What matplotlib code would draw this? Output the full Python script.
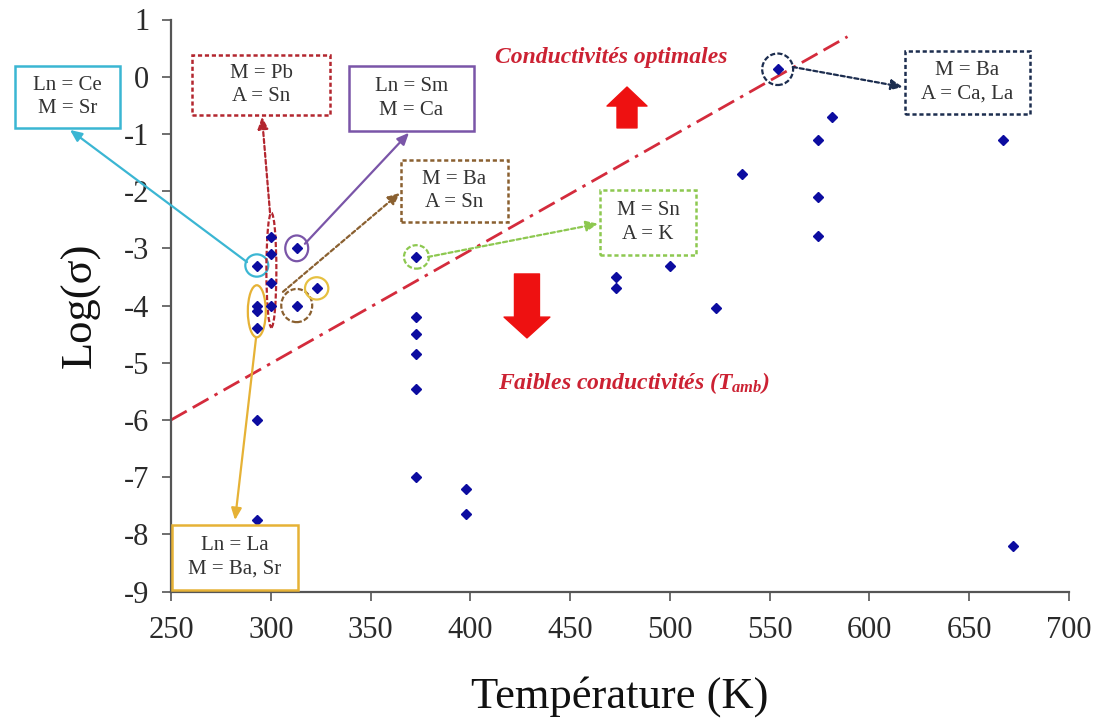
import matplotlib
matplotlib.use("Agg")
import matplotlib.pyplot as plt
from matplotlib.patches import Ellipse, Rectangle

plt.rcParams["font.family"] = ["Liberation Serif", "DejaVu Serif"]
plt.rcParams["axes.unicode_minus"] = False
plt.rcParams["lines.scale_dashes"] = False
plt.rcParams["mathtext.fontset"] = "custom"
plt.rcParams["mathtext.it"] = "Liberation Serif:italic:bold"
plt.rcParams["mathtext.rm"] = "Liberation Serif:bold"

# Measured conductivities: temperature (K) and log10(sigma)
temperature = [293, 313, 300, 300, 300, 300, 293, 293, 293, 313, 323, 293, 293,
               373, 373, 373, 373, 373, 373, 398, 398, 473, 473, 500, 523, 536,
               554, 574, 574, 574, 581, 667, 672]
log_sigma = [-3.3, -3.0, -2.8, -3.1, -3.6, -4.0, -4.0, -4.1, -4.4, -4.0, -3.7, -6.0, -7.75,
             -3.15, -4.2, -4.5, -4.85, -5.45, -7.0, -7.2, -7.65, -3.5, -3.7, -3.3, -4.05, -1.7,
             0.13, -1.1, -2.1, -2.78, -0.7, -1.1, -8.2]

# Boundary between low and optimal conductivities
limit_T = [250, 589]
limit_log = [-6.0, 0.7]

x_ticks = [250, 300, 350, 400, 450, 500, 550, 600, 650, 700]
y_ticks = [1, 0, -1, -2, -3, -4, -5, -6, -7, -8, -9]

# Highlighted families: label, colour, solid/dashed, group centre (T, logσ),
# group extent (K, logσ), box rectangle (axes fraction), arrow start (T, logσ),
# arrow end (axes fraction)
families = [
    ("Ln = Ce\nM = Sr", "#3bb6d3", "-", (293, -3.3), (11.5, 0.39),
     (-0.1737, 0.8105, 0.117, 0.1084), (288.1, -3.24), (-0.1125, 0.807)),
    ("M = Pb\nA = Sn", "#b3262f", "--", (300.3, -3.38), (5.0, 2.0),
     (0.0234, 0.8332, 0.1537, 0.1049), (299.6, -2.37), (0.1013, 0.830)),
    ("Ln = Sm\nM = Ca", "#7a55a8", "-", (313, -3.0), (11.5, 0.45),
     (0.1982, 0.8052, 0.1392, 0.1136), (317.1, -2.92), (0.265, 0.802)),
    ("M = Ba\nA = Sn", "#8a6030", "--", (313, -4.0), (15.5, 0.58),
     (0.2561, 0.6462, 0.1192, 0.1084), (306.1, -3.76), (0.255, 0.697)),
    ("M = Sn\nA = K", "#8dc850", "--", (373, -3.15), (12.5, 0.41),
     (0.4777, 0.5884, 0.1069, 0.1136), (378.8, -3.15), (0.4755, 0.643)),
    ("M = Ba\nA = Ca, La", "#1c2d4f", "--", (554, 0.13), (15.5, 0.55),
     (0.8174, 0.8353, 0.1392, 0.1101), (561.6, 0.17), (0.815, 0.882)),
    ("Ln = La\nM = Ba, Sr", "#e6b236", "-", (293, -4.1), (9.0, 0.91),
     (0.0011, 0.0028, 0.1403, 0.1136), (292.6, -4.57), (0.0713, 0.125)),
]
# Extra circled La point next to the Ba/Sn group
extra_circle = ((323, -3.7), (11.7, 0.39), "#e6c040")

fig = plt.figure(figsize=(10.99, 7.24), dpi=100)
ax = fig.add_axes([171 / 1099, 132.4 / 724, 898 / 1099, 572.1 / 724])

ax.set_xlim(250, 700)
ax.set_ylim(-9, 1)
ax.set_xticks(x_ticks)
ax.set_yticks(y_ticks)
ax.set_xticklabels([str(v) for v in x_ticks])
ax.set_yticklabels([str(v) for v in y_ticks])

for side in ("top", "right"):
    ax.spines[side].set_visible(False)
for side in ("left", "bottom"):
    ax.spines[side].set_color("#555555")
    ax.spines[side].set_linewidth(1.6)
ax.tick_params(axis="both", direction="out", length=6.5, width=1.2,
               color="#555555", labelsize=22, labelcolor="#2a2a2a")
ax.tick_params(axis="y", pad=9)
ax.tick_params(axis="x", pad=11)

ax.set_xlabel("Température (K)", fontsize=32, color="#111111", va="center")
ax.xaxis.set_label_coords(0.5, -0.184)
ax.set_ylabel("Log(σ)", fontsize=32, color="#111111", va="center")
ax.yaxis.set_label_coords(-0.101, 0.5)

# Limit line
line, = ax.plot(limit_T, limit_log, color="#d42b3c", lw=2.0, zorder=2)
line.set_dashes([13, 5, 13, 5, 2.5, 5])

# Data points
ax.plot(temperature, log_sigma, linestyle="none", marker="D", markersize=4.6,
        color="#0c0ca0", zorder=5)

# Group outlines, call-out boxes and arrows
for label, col, ls, centre, extent, box, start, end in families:
    ax.add_patch(Ellipse(centre, extent[0], extent[1], fill=False, edgecolor=col,
                         lw=1.6, linestyle=ls, zorder=4))
    rect = Rectangle((box[0], box[1]), box[2], box[3], transform=ax.transAxes,
                     fill=True, facecolor="white", edgecolor=col, lw=1.8,
                     linestyle=ls, clip_on=False, zorder=6)
    if ls == "--":
        rect.set_linestyle((0, (3, 2)))
    ax.add_patch(rect)
    ax.text(box[0] + box[2] / 2, box[1] + box[3] / 2, label, transform=ax.transAxes,
            ha="center", va="center", fontsize=15, color="#333333",
            linespacing=1.3, zorder=7, clip_on=False)
    arrow_ls = (0, (3, 2)) if ls == "--" else "-"
    ax.annotate("", xy=end, xycoords="axes fraction", xytext=start, textcoords="data",
                annotation_clip=False, zorder=5,
                arrowprops=dict(arrowstyle="-|>,head_length=0.5,head_width=0.22",
                                color=col, lw=1.6, linestyle=arrow_ls,
                                shrinkA=0, shrinkB=0, mutation_scale=14))

ax.add_patch(Ellipse(extra_circle[0], extra_circle[1][0], extra_circle[1][1], fill=False,
                     edgecolor=extra_circle[2], lw=1.6, zorder=4))

# Region labels and direction arrows
ax.text(0.4906, 0.934, "Conductivités optimales", transform=ax.transAxes,
        ha="center", va="center", fontsize=17, color="#cc2233",
        fontstyle="italic", fontweight="bold")
ax.text(0.515, 0.365, "Faibles conductivités ($T_{amb}$)", transform=ax.transAxes,
        ha="center", va="center", fontsize=17, color="#cc2233",
        fontstyle="italic", fontweight="bold")

ax.annotate("", xy=(0.5078, 0.882), xycoords="axes fraction",
            xytext=(0.5078, 0.8105), textcoords="axes fraction",
            arrowprops=dict(arrowstyle="simple,head_length=13.7,head_width=28.8,tail_width=14.4",
                            color="#ee1111", shrinkA=0, shrinkB=0, mutation_scale=1))
ax.annotate("", xy=(0.3964, 0.4434), xycoords="axes fraction",
            xytext=(0.3964, 0.5552), textcoords="axes fraction",
            arrowprops=dict(arrowstyle="simple,head_length=15,head_width=33,tail_width=18",
                            color="#ee1111", shrinkA=0, shrinkB=0, mutation_scale=1))

fig.savefig("out.png", dpi=100)
